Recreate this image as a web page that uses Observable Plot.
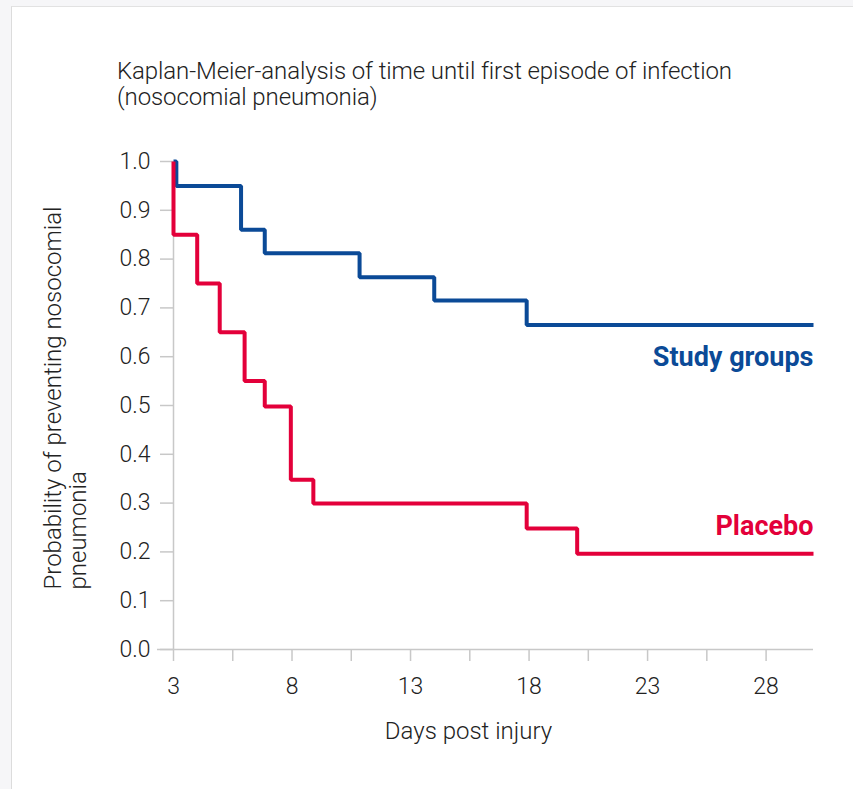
<!DOCTYPE html>
<html>
<head>
<meta charset="utf-8">
<script src="https://cdn.jsdelivr.net/npm/d3@7"></script>
<script src="https://cdn.jsdelivr.net/npm/@observablehq/plot@0.6"></script>
<style>
  html, body { margin: 0; padding: 0; background: #f6f6f8; }
  body { width: 853px; height: 789px; overflow: hidden; position: relative; font-family: Roboto, "Liberation Sans", sans-serif; }
  #card { position: absolute; left: 11px; top: 6px; width: 900px; height: 800px; background: #fff; border-left: 1px solid #dcdcdc; border-top: 1px solid #e2e2e2; }
  #title { position: absolute; left: 117px; top: 58px; font-size: 24px; font-weight: 300; line-height: 26px; color: #222; letter-spacing: -0.1px; white-space: nowrap; }
  #chart { position: absolute; left: 0; top: 0; }
</style>
</head>
<body>
<div id="card"></div>
<div id="chart"></div>
<div id="title">Kaplan-Meier-analysis of time until first episode of infection<br>(nosocomial pneumonia)</div>
<script>
// Data
const seriesNames = ["Study groups", "Placebo"];
const seriesColors = ["#0b4a97", "#e3003a"];
const studyDays = [3, 3.12, 5.85, 6.85, 10.85, 14.0, 17.9, 30];
const studySurv = [1.0, 0.95, 0.86, 0.812, 0.763, 0.715, 0.665, 0.665];
const placeboDays = [3, 3, 4.0, 4.95, 6.0, 6.85, 7.95, 8.9, 17.9, 20.03, 30];
const placeboSurv = [1.0, 0.85, 0.75, 0.65, 0.55, 0.498, 0.348, 0.299, 0.248, 0.196, 0.196];
const xTicks = [3, 5.5, 8, 10.5, 13, 15.5, 18, 20.5, 23, 25.5, 28];
const yTicks = [0, 0.1, 0.2, 0.3, 0.4, 0.5, 0.6, 0.7, 0.8, 0.9, 1.0];
const xLabel = "Days post injury";
const yLabel = "Probability of preventing nosocomial\npneumonia";

const rows = [
  ...studyDays.map((d, i) => ({series: seriesNames[0], day: d, surv: studySurv[i]})),
  ...placeboDays.map((d, i) => ({series: seriesNames[1], day: d, surv: placeboSurv[i]}))
];
const endOf = s => [rows.filter(r => r.series === s).at(-1)];

const axisColor = "#c8c8c8";
const textColor = "#222";

const chart = Plot.plot({
  width: 853,
  height: 789,
  marginTop: 161,
  marginBottom: 140,
  marginLeft: 173,
  marginRight: 40,
  style: {background: "transparent", fontFamily: "Roboto, sans-serif", fontWeight: 300, color: textColor},
  x: {domain: [3, 30]},
  y: {domain: [0, 1]},
  color: {domain: seriesNames, range: seriesColors},
  marks: [
    Plot.ruleX([3], {y1: 0, y2: 1, stroke: axisColor, strokeWidth: 1.5}),
    Plot.ruleY([0], {stroke: axisColor, strokeWidth: 1.5, insetLeft: -16}),
    Plot.axisY({ticks: yTicks, tickFormat: d3.format(".1f"), tickSize: 13, tickPadding: 10, fontSize: 23, stroke: axisColor, strokeWidth: 1.5, fill: textColor, label: null}),
    Plot.axisX({ticks: xTicks, tickFormat: d => Number.isInteger(d) ? String(d) : "", tickSize: 12, tickPadding: 16, fontSize: 23, stroke: axisColor, strokeWidth: 1.5, fill: textColor, label: null}),
    Plot.text([xLabel], {frameAnchor: "bottom", dx: -25, dy: 89, fontSize: 24, fill: textColor}),
    Plot.text([yLabel], {frameAnchor: "left", textAnchor: "start", dx: -108, dy: 184, rotate: -90, fontSize: 24, lineHeight: 1.05, fill: textColor}),
    Plot.line(rows, {x: "day", y: "surv", z: "series", stroke: "series", curve: "step-after", strokeWidth: 4, strokeLinejoin: "miter", strokeLinecap: "butt"}),
    Plot.text(endOf(seriesNames[0]), {x: "day", y: "surv", text: "series", fill: "series", textAnchor: "end", dy: 32, fontSize: 27, fontWeight: 700}),
    Plot.text(endOf(seriesNames[1]), {x: "day", y: "surv", text: "series", fill: "series", textAnchor: "end", dy: -27, fontSize: 27, fontWeight: 700})
  ]
});
document.getElementById("chart").appendChild(chart);
</script>
</body>
</html>
